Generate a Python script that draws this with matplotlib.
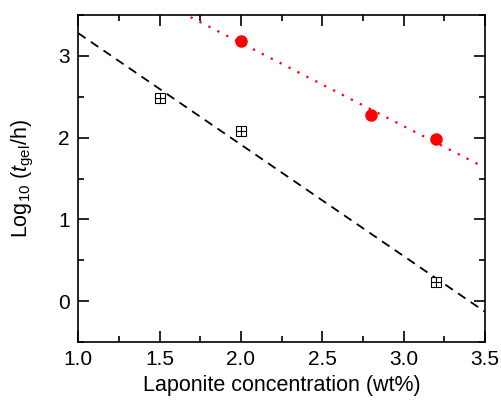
import numpy as np
import matplotlib
matplotlib.use("Agg")
import matplotlib.pyplot as plt
import matplotlib.ticker as ticker

plt.rcParams['font.family'] = ['Liberation Sans', 'DejaVu Sans']
plt.rcParams['mathtext.fontset'] = 'custom'
plt.rcParams['mathtext.rm'] = 'Liberation Sans'
plt.rcParams['mathtext.it'] = 'Liberation Sans:italic'

# laponite concentration (wt%) and log10 of gelation time (h)
conc_black = [1.5, 2.0, 3.2]
logt_black = [2.48, 2.08, 0.23]
conc_red = [2.0, 2.8, 3.2]
logt_red = [3.18, 2.28, 1.98]

fig = plt.figure(figsize=(5.01, 4.0), dpi=100)
ax = fig.add_axes([0.156, 0.145, 0.812, 0.8175])

# linear fits
xx = np.linspace(1.0, 3.5, 200)
pb = np.polyfit(conc_black, logt_black, 1)
pr = np.polyfit(conc_red, logt_red, 1)
ax.plot(xx, np.polyval(pb, xx), color='black', ls=(0, (5, 3.5)), lw=1.3)
ax.plot(xx, np.polyval(pr, xx), color='red', ls=(0, (1, 3.5)), lw=1.6)

ax.plot(conc_black, logt_black, ls='none', marker='s', ms=6.5, mfc='white',
        mec='black', mew=0.8)
ax.plot(conc_black, logt_black, ls='none', marker='+', ms=6.5, color='black', mew=0.8)
ax.plot(conc_red, logt_red, ls='none', marker='o', ms=8, color='red')

ax.set_xlim(1.0, 3.5)
ax.set_ylim(-0.5, 3.5)
ax.xaxis.set_major_locator(ticker.MultipleLocator(0.5))
ax.xaxis.set_minor_locator(ticker.MultipleLocator(0.25))
ax.yaxis.set_major_locator(ticker.MultipleLocator(1))
ax.yaxis.set_minor_locator(ticker.MultipleLocator(0.5))
ax.xaxis.set_major_formatter(ticker.FormatStrFormatter('%.1f'))
ax.tick_params(which='both', direction='in', top=True, right=True, width=1.2, labelsize=15)
ax.tick_params(which='major', length=8, pad=6)
ax.tick_params(which='minor', length=4.5)
for s in ax.spines.values():
    s.set_linewidth(1.2)

ax.set_xlabel('Laponite concentration (wt%)', fontsize=15.5, labelpad=4)
ax.set_ylabel(r'Log$_{10}$ ($t_{\rm gel}$/h)', fontsize=15.5, labelpad=16)

fig.savefig('out.png', dpi=100)
